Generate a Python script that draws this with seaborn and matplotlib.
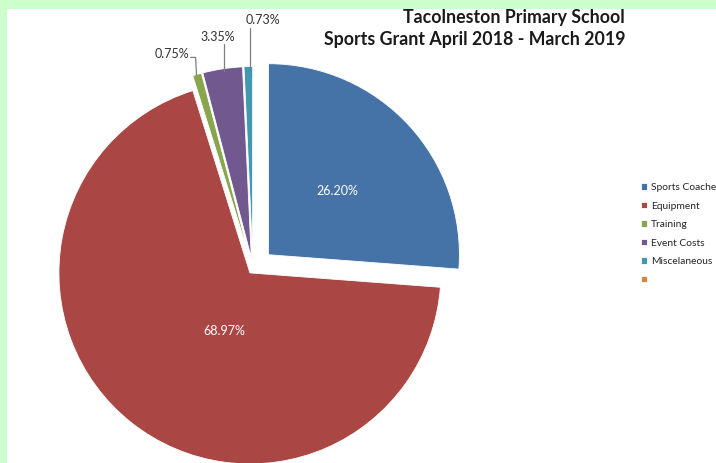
import matplotlib.pyplot as plt
import seaborn as sns
import numpy as np
from matplotlib.patches import Rectangle

# Data
categories = ['Sports Coaches', 'Equipment', 'Training', 'Event Costs', 'Miscelaneous', '']
shares = [26.20, 68.97, 0.75, 3.35, 0.73, 0.0]
colours = ['#4572A7', '#AA4643', '#89A54E', '#71588F', '#4198AF', '#DB843D']
explode = [0.11, 0.026, 0.06, 0.06, 0.06, 0.0]

sns.set_theme(style='white')
plt.rcParams['font.family'] = ['Lato', 'DejaVu Sans']

W, H = 716, 463
R = 191.0          # pie radius in pixels
cx, cy = 253, 269  # pie centre in pixels (from top-left)

fig = plt.figure(figsize=(W / 100, H / 100), dpi=100)
fig.patch.set_facecolor('white')
ax = fig.add_axes([0, 0, 1, 1])

wedges, _ = ax.pie(shares, colors=colours, explode=explode, startangle=90,
                   counterclock=False, radius=1,
                   wedgeprops=dict(edgecolor='white', linewidth=0.6))

ax.set_aspect('auto')
ax.set_xlim(-cx / R, (W - cx) / R)
ax.set_ylim(-(H - cy) / R, cy / R)
ax.axis('off')

px = 1 / R

def mid_point(w, frac, shift=0.0):
    a = np.deg2rad((w.theta1 + w.theta2) / 2 + shift)
    x0, y0 = w.center
    return x0 + frac * w.r * np.cos(a), y0 + frac * w.r * np.sin(a)

# inside labels for the two big slices
for i, frac, shift in [(0, 0.49, 0), (1, 0.33, 15)]:
    x, y = mid_point(wedges[i], frac, shift)
    ax.text(x, y, f'{shares[i]:.2f}%', color='white', fontsize=9,
            ha='center', va='center')

# outside labels with leader lines for the small slices
lead_col = '#7f7f7f'
txt_col = '#333333'
# Training: up then left
x, y = mid_point(wedges[2], 1.0)
x -= 0.5 * px
y -= 1 * px
y1 = y + 18 * px
ax.plot([x, x - 1 * px, x - 6 * px], [y, y1, y1], color=lead_col, lw=0.9)
ax.text(x - 7 * px, y1 + 3 * px, f'{shares[2]:.2f}%', fontsize=9,
        color=txt_col, ha='right', va='center')
# Event Costs: straight up
x, y = mid_point(wedges[3], 1.0)
x += 1 * px
y -= 2 * px
y1 = y + 27 * px
ax.plot([x, x], [y, y1], color=lead_col, lw=0.9)
ax.text(x - 6 * px, y1 + 1 * px, f'{shares[3]:.2f}%', fontsize=9,
        color=txt_col, ha='center', va='bottom')
# Miscelaneous: straight up
x, y = mid_point(wedges[4], 1.0)
x += 1.5 * px
y -= 1 * px
y1 = y + 40 * px
ax.plot([x, x], [y, y1], color=lead_col, lw=0.9)
ax.text(x - 4 * px, y1 + 2 * px, f'{shares[4]:.2f}%', fontsize=9,
        color=txt_col, ha='left', va='bottom')

ax.legend(wedges, categories, loc='center left',
          bbox_to_anchor=(634 / W, 1 - 234 / H), bbox_transform=fig.transFigure,
          frameon=False, fontsize=7.4, handlelength=0.6, handleheight=0.6,
          handletextpad=0.35, labelspacing=0.92, borderpad=0.2)

fig.text(625 / W, 1 - 17 / H, 'Tacolneston Primary School', fontsize=12.8,
         fontweight='bold', ha='right', va='center', color='#1a1a1a')
fig.text(625 / W, 1 - 40 / H, 'Sports Grant April 2018 - March 2019', fontsize=12.8,
         fontweight='bold', ha='right', va='center', color='#1a1a1a')

# light green frame on top and left
fig.patches.append(Rectangle((0, 1 - 9 / H), 1, 9 / H, transform=fig.transFigure,
                             facecolor='#CCFFCC', edgecolor='none', zorder=10))
fig.patches.append(Rectangle((0, 0), 7 / W, 1, transform=fig.transFigure,
                             facecolor='#CCFFCC', edgecolor='none', zorder=10))

fig.savefig('out.png', dpi=100)
